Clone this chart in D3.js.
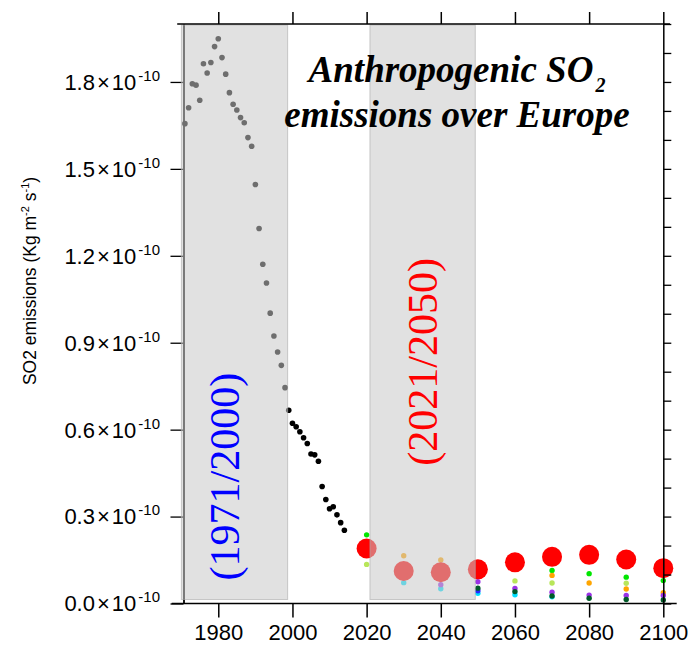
<!DOCTYPE html>
<html>
<head>
<meta charset="utf-8">
<script src="https://cdn.jsdelivr.net/npm/d3@7"></script>
<style>
body { margin: 0; background: #fff; }
text { font-family: "Liberation Sans", Arial, Helvetica, sans-serif; }
</style>
</head>
<body>
<div id="chart"></div>
<script>
// Data: SO2 emissions in units of 1e-10 Kg m-2 s-1
const histYears = [1971, 1972, 1973, 1974, 1975, 1976, 1977, 1978, 1979, 1980,
                   1981, 1982, 1983, 1984, 1985, 1986, 1987, 1988, 1989, 1990,
                   1991, 1992, 1993, 1994, 1995, 1996, 1997, 1998, 1999, 2000,
                   2001, 2002, 2003, 2004, 2005, 2006, 2007, 2008, 2009, 2010,
                   2011, 2012, 2013, 2014];
const histValues = [1.656, 1.711, 1.794, 1.789, 1.737, 1.863, 1.831, 1.867, 1.922, 1.949,
                    1.884, 1.827, 1.763, 1.723, 1.703, 1.677, 1.659, 1.608, 1.578, 1.446,
                    1.294, 1.171, 1.106, 1.002, 0.923, 0.868, 0.822, 0.745, 0.667, 0.622,
                    0.610, 0.593, 0.572, 0.552, 0.516, 0.513, 0.491, 0.404, 0.359, 0.327,
                    0.334, 0.306, 0.279, 0.253];

const futureYears = [2020, 2030, 2040, 2050, 2060, 2070, 2080, 2090, 2100];
const ensembleMean = [0.190, 0.112, 0.108, 0.118, 0.142, 0.161, 0.168, 0.152, 0.122];

// individual scenarios (null = hidden behind the mean marker)
const scenarioColors = ["#00e600", "#b8e65a", "#ffa500", "#00e0ff", "#2626ff", "#9a32e6", "#005a28"];
const greenVals      = [0.237, null, null, null, null, 0.114, 0.103, 0.091, 0.079];
const lightGreenVals = [0.135, null, null, null, 0.078, 0.071, null, 0.070, null];
const orangeVals     = [null, 0.165, 0.150, null, null, 0.097, 0.071, 0.050, 0.037];
const cyanVals       = [null, 0.072, 0.051, 0.035, 0.030, 0.023, null, null, null];
const blueVals       = [null, null, null, 0.044, null, null, null, null, null];
const purpleVals     = [null, null, 0.065, 0.075, 0.052, 0.039, 0.029, 0.028, 0.028];
const darkGreenVals  = [null, null, null, 0.053, 0.041, 0.026, 0.018, 0.014, 0.012];
const scenarioValues = [greenVals, lightGreenVals, orangeVals, cyanVals, blueVals, purpleVals, darkGreenVals];

const periods = [[1970.05, 1998.7], [2020.9, 2049.3]];
const periodLabels = ["(1971/2000)", "(2021/2050)"];
const periodColors = ["#0000ff", "#ff0000"];
const periodLabelY = [0.438, 0.834];

const xTicks = [1980, 2000, 2020, 2040, 2060, 2080, 2100];
const yTicks = [0.0, 0.3, 0.6, 0.9, 1.2, 1.5, 1.8];
const yMinor = [0.0, 0.1, 0.2, 0.3, 0.4, 0.5, 0.6, 0.7, 0.8, 0.9, 1.0,
                1.1, 1.2, 1.3, 1.4, 1.5, 1.6, 1.7, 1.8, 1.9, 2.0];

const W = 696, H = 654;

let svg = d3.select("#chart")
            .append("svg")
              .attr("width", W)
              .attr("height", H);

let x = d3.scaleLinear().domain([1970, 2100]).range([181.2, 663.3]);
let y = d3.scaleLinear().domain([0, 2]).range([603.5, 24]);

// Left axis (sits under the translucent shading)
let leftX = x(1970) + 2.3;
let gl = svg.append("g").attr("transform", "translate(" + leftX + ",0)");
gl.call(d3.axisLeft(y).tickValues(yMinor).tickSize(7).tickSizeOuter(0).tickFormat(""));
gl.call(d3.axisLeft(y).tickValues(yTicks).tickSize(13).tickSizeOuter(0).tickFormat(""));
gl.selectAll("path.domain").attr("stroke", "#000").attr("stroke-width", 1.8);
gl.selectAll(".tick line").attr("stroke-width", 1.3);

// Historical emissions
svg.append("g").selectAll("circle")
  .data(histYears)
  .enter()
  .append("circle")
    .attr("cx", (d) => x(d))
    .attr("cy", (d, i) => y(histValues[i]))
    .attr("r", 2.8)
    .style("fill", "#000");

// Scenario members
scenarioValues.forEach(function(vals, k) {
  svg.append("g").selectAll("circle")
    .data(futureYears.map((yr, i) => ({yr: yr, v: vals[i]})).filter((d) => d.v !== null))
    .enter()
    .append("circle")
      .attr("cx", (d) => x(d.yr))
      .attr("cy", (d) => y(d.v))
      .attr("r", 2.7)
      .style("fill", scenarioColors[k]);
});

// Ensemble mean
svg.append("g").selectAll("circle")
  .data(futureYears)
  .enter()
  .append("circle")
    .attr("cx", (d) => x(d))
    .attr("cy", (d, i) => y(ensembleMean[i]))
    .attr("r", 10)
    .style("fill", "#ff0000");

// Shaded reference periods (translucent, on top of the data)
svg.append("g").selectAll("rect")
  .data(periods)
  .enter()
  .append("rect")
    .attr("x", (d) => x(d[0]))
    .attr("y", y(2) + 1)
    .attr("width", (d) => x(d[1]) - x(d[0]))
    .attr("height", y(0) - y(2) - 5)
    .style("fill", "rgb(200,200,200)")
    .style("fill-opacity", 0.55)
    .style("stroke", "rgb(170,170,170)")
    .style("stroke-opacity", 0.6);

// Bottom axis
let gb = svg.append("g").attr("transform", "translate(0," + y(0) + ")");
gb.call(d3.axisBottom(x).tickValues(xTicks).tickSize(14).tickPadding(7).tickFormat(d3.format("d")));
gb.select("path.domain").remove();
gb.append("line").attr("x1", x(1970) - 9.5).attr("x2", x(2100) + 13.4).attr("stroke", "#000").attr("stroke-width", 1.5);
gb.selectAll(".tick line").attr("stroke-width", 1.5);
gb.selectAll(".tick text").attr("font-size", "22px").attr("fill", "#000")
  .style("font-family", "'Liberation Sans', Arial, sans-serif");

// Top axis
let gt = svg.append("g").attr("transform", "translate(0," + y(2) + ")");
gt.call(d3.axisTop(x).tickValues(xTicks).tickSize(12).tickFormat(""));
gt.select("path.domain").remove();
gt.append("line").attr("x1", x(1970) - 4).attr("x2", x(2100) + 6.7).attr("stroke", "#000").attr("stroke-width", 1.5);
gt.selectAll(".tick line").attr("stroke-width", 1.5);

// Right axis
let gr = svg.append("g").attr("transform", "translate(" + x(2100) + ",0)");
gr.call(d3.axisRight(y).tickValues(yMinor).tickSize(8).tickSizeOuter(0).tickFormat(""));
gr.select("path.domain").attr("stroke-width", 1.5);
gr.selectAll(".tick line").attr("stroke-width", 1.3);

// Y tick labels with x10^-10 notation
let yl = svg.append("g").selectAll("text")
  .data(yTicks)
  .enter()
  .append("text")
    .attr("x", leftX - 23.5)
    .attr("y", (d) => y(d))
    .attr("dy", "0.36em")
    .attr("text-anchor", "end")
    .attr("font-size", "22px")
    .attr("fill", "#000");
yl.append("tspan").text((d) => d3.format(".1f")(d));
yl.append("tspan").attr("dx", "2").text("\u00d7");
yl.append("tspan").attr("dx", "2").text("10");
yl.append("tspan").attr("font-size", "15px").attr("dx", "2").attr("dy", "-9").text("-10");

// Y axis title
let yt = svg.append("text")
  .attr("transform", "translate(35.5," + 281 + ")rotate(-90)")
  .attr("text-anchor", "middle")
  .attr("font-size", "17.5px")
  .attr("fill", "#000");
yt.append("tspan").text("SO2 emissions (Kg m");
yt.append("tspan").attr("font-size", "11px").attr("dy", "-7").text("-2");
yt.append("tspan").attr("dy", "7").text(" s");
yt.append("tspan").attr("font-size", "11px").attr("dy", "-7").text("-1");
yt.append("tspan").attr("dy", "7").text(")");

// Period labels
const periodLabelOffset = [58, 67];
svg.append("g").selectAll("text")
  .data(periods)
  .enter()
  .append("text")
    .attr("transform", (d, i) => "translate(" + (x(d[0]) + periodLabelOffset[i]) + "," + y(periodLabelY[i]) + ")rotate(-90)")
    .attr("text-anchor", "middle")
    .style("font-family", "'Liberation Serif', 'Times New Roman', serif")
    .attr("font-size", "42px")
    .attr("fill", (d, i) => periodColors[i])
    .text((d, i) => periodLabels[i]);

// Title
let t1 = svg.append("text")
  .attr("x", 457).attr("y", 81.7)
  .attr("text-anchor", "middle")
  .style("font-family", "'Liberation Serif', 'Times New Roman', serif")
  .style("font-weight", "bold").style("font-style", "italic")
  .attr("font-size", "37px");
t1.append("tspan").text("Anthropogenic SO");
t1.append("tspan").attr("font-size", "20px").attr("dx", "2").attr("dy", "10").text("2");

svg.append("text")
  .attr("x", 457).attr("y", 127.3)
  .attr("text-anchor", "middle")
  .style("font-family", "'Liberation Serif', 'Times New Roman', serif")
  .style("font-weight", "bold").style("font-style", "italic")
  .attr("font-size", "37px")
  .text("emissions over Europe");
</script>
</body>
</html>
